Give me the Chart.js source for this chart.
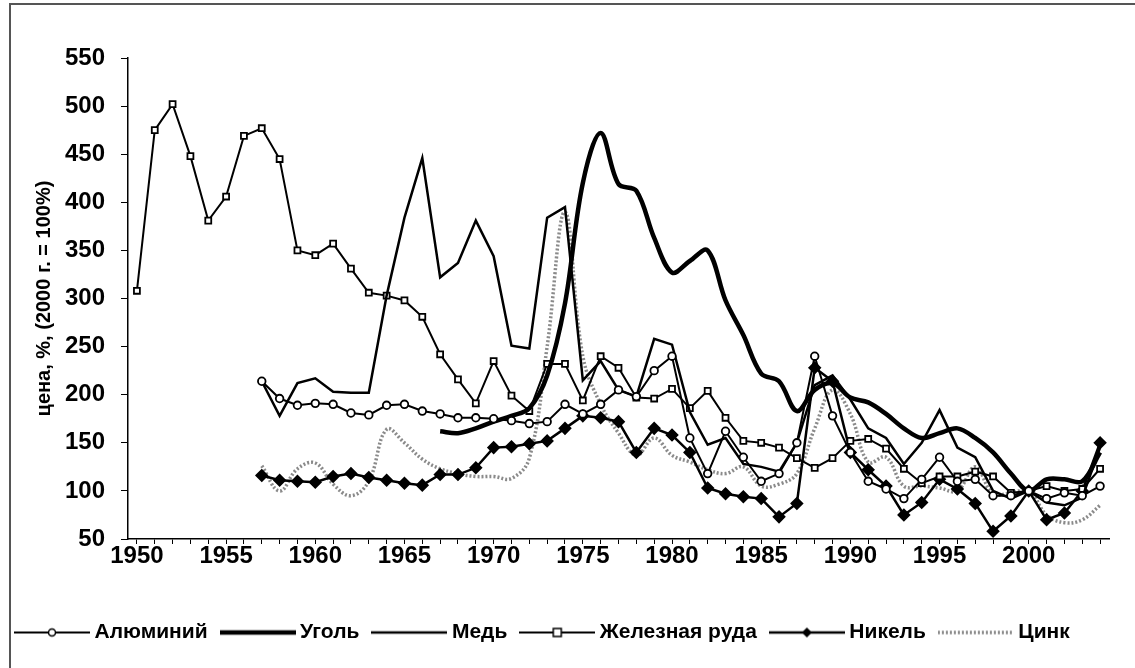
<!DOCTYPE html>
<html lang="ru">
<head>
<meta charset="utf-8">
<title>Цены на сырьё, 1950–2004</title>
<script src="https://cdn.jsdelivr.net/npm/chart.js@4.4.1/dist/chart.umd.min.js"></script>
<style>
  html, body { margin: 0; padding: 0; background: #fff; }
  #wrap { position: relative; width: 1135px; height: 668px; overflow: hidden; }
  #frame { position: absolute; left: 9px; top: 3px; right: -10px; bottom: -10px;
           border-left: 2px solid #555; border-top: 2px solid #555; pointer-events: none; }
</style>
</head>
<body>
<div id="wrap">
  <canvas id="myChart" width="1135" height="668"></canvas>
  <div id="frame"></div>
</div>
<script>
// годы (ось X)
var years = [1950, 1951, 1952, 1953, 1954, 1955, 1956, 1957, 1958, 1959,
             1960, 1961, 1962, 1963, 1964, 1965, 1966, 1967, 1968, 1969,
             1970, 1971, 1972, 1973, 1974, 1975, 1976, 1977, 1978, 1979,
             1980, 1981, 1982, 1983, 1984, 1985, 1986, 1987, 1988, 1989,
             1990, 1991, 1992, 1993, 1994, 1995, 1996, 1997, 1998, 1999,
             2000, 2001, 2002, 2003, 2004];
var xLabelYears = [1950, 1955, 1960, 1965, 1970, 1975, 1980, 1985, 1990, 1995, 2000];
var yTicks = [50, 100, 150, 200, 250, 300, 350, 400, 450, 500, 550];

// цены, % (2000 г. = 100%)
var ironOre = [308, 475, 502, 448, 381, 406, 469, 477, 445, 350,   // с 1950
               345, 357, 331, 306, 303, 298, 281, 242, 216, 191,
               235, 199, 183, 232, 232, 194, 240, 228, 197, 196,
               206, 186, 204, 176, 152, 150, 145, 134, 124, 134,
               152, 154, 144, 123, 108, 115, 115, 120, 115, 98,
               100, 105, 100, 102, 123];
var aluminium = [214, 196, 189, 191, 190, 181, 179, 189, 190, 183,  // с 1957
                 180, 176, 176, 175, 173, 170, 172, 190, 180, 190,
                 205, 198, 225, 240, 155, 118, 162, 135, 110, 118,
                 150, 240, 178, 140, 110, 102, 92, 112, 135, 110,
                 112, 95, 95, 100, 92, 98, 95, 105];
var copper = [214, 178, 212, 217, 203, 202, 202, 303, 384, 446,     // с 1957
              322, 337, 381, 344, 251, 248, 384, 395, 215, 235,
              205, 198, 258, 252, 182, 148, 155, 128, 125, 120,
              150, 210, 220, 195, 165, 155, 128, 150, 184, 145,
              135, 100, 92, 100, 88, 85, 93, 145];
var nickel = [116, 111, 110, 109, 115, 118, 114, 111, 108, 106,     // с 1957
              117, 117, 124, 145, 146, 149, 152, 165, 178, 176,
              172, 140, 165, 158, 140, 103, 97, 94, 92, 73,
              87, 228, 214, 140, 122, 105, 75, 88, 112, 102,
              87, 58, 74, 100, 70, 77, 100, 150];
var zinc = [126, 100, 123, 129, 107, 95, 110, 164, 150, 133,        // с 1957
            123, 118, 115, 115, 113, 134, 250, 390, 240, 190,
            160, 137, 155, 137, 130, 122, 118, 125, 105, 107,
            118, 165, 205, 180, 130, 135, 105, 105, 103, 100,
            125, 97, 98, 100, 75, 67, 70, 85];
var coal = [162, 160, 165, 172, 178, 186, 220, 295, 420, 472,       // с 1967
            419, 412, 363, 327, 339, 350, 298, 262, 222, 214,
            183, 205, 212, 197, 192, 180, 165, 155, 160, 165,
            155, 140, 118, 100, 112, 112, 110, 140];

// ряд начинается не с 1950 -> дополняем пустыми значениями
function fromYear(start, values) {
  var out = [];
  for (var i = 0; i < years.length; i++) {
    var k = years[i] - start;
    out.push(k >= 0 && k < values.length ? values[k] : null);
  }
  return out;
}

var FONT = "'Liberation Sans', Arial, sans-serif";

// образцы линий для легенды
function sample(lineW, color, dash, marker) {
  var c = document.createElement("canvas");
  c.width = 76; c.height = 14;
  var g = c.getContext("2d");
  g.strokeStyle = color; g.lineWidth = lineW;
  if (dash) g.setLineDash(dash);
  g.beginPath(); g.moveTo(0, 7); g.lineTo(76, 7); g.stroke();
  g.setLineDash([]);
  g.lineWidth = 1.5;
  if (marker === "circle") {
    g.fillStyle = "#fff"; g.beginPath(); g.arc(38, 7, 3.5, 0, Math.PI * 2); g.fill(); g.stroke();
  } else if (marker === "rect") {
    g.fillStyle = "#fff"; g.fillRect(34, 3, 8, 8); g.strokeRect(34, 3, 8, 8);
  } else if (marker === "diamond") {
    g.fillStyle = "#000"; g.beginPath();
    g.moveTo(38, 2); g.lineTo(43, 7); g.lineTo(38, 12); g.lineTo(33, 7); g.closePath(); g.fill();
  }
  return c;
}

var samples = [
  sample(2, "#000", null, "circle"),
  sample(4.5, "#000"),
  sample(2.5, "#000"),
  sample(2, "#000", null, "rect"),
  sample(2.5, "#000", null, "diamond"),
  sample(3.5, "#8a8a8a", [2, 2])
];

var ctx = document.getElementById("myChart").getContext("2d");

var chart = new Chart(ctx, {
  type: "line",
  data: {
    labels: years,
    datasets: [
      {
        label: "Алюминий",
        data: fromYear(1957, aluminium),
        borderColor: "#000", borderWidth: 2,
        pointStyle: "circle", pointRadius: 3.8,
        pointBackgroundColor: "#fff", pointBorderColor: "#000", pointBorderWidth: 1.8
      },
      {
        label: "Уголь",
        data: fromYear(1967, coal),
        borderColor: "#000", borderWidth: 4.5, pointRadius: 0, tension: 0.35
      },
      {
        label: "Медь",
        data: fromYear(1957, copper),
        borderColor: "#000", borderWidth: 2.5, pointRadius: 0
      },
      {
        label: "Железная руда",
        data: ironOre,
        borderColor: "#000", borderWidth: 2,
        pointStyle: "rect", pointRadius: 4.2,
        pointBackgroundColor: "#fff", pointBorderColor: "#000", pointBorderWidth: 1.8
      },
      {
        label: "Никель",
        data: fromYear(1957, nickel),
        borderColor: "#000", borderWidth: 2.5,
        pointStyle: "rectRot", pointRadius: 5,
        pointBackgroundColor: "#000", pointBorderColor: "#000"
      },
      {
        label: "Цинк",
        data: fromYear(1957, zinc),
        borderColor: "#8a8a8a", borderWidth: 3.5, borderDash: [2, 2],
        pointRadius: 0, tension: 0.4
      }
    ]
  },
  options: {
    responsive: false,
    animation: false,
    layout: { padding: { left: 2, top: 58, right: 26, bottom: 15 } },
    plugins: {
      tooltip: { enabled: false },
      legend: {
        position: "bottom",
        align: "start",
        labels: {
          usePointStyle: true,
          pointStyleWidth: 64,
          padding: 18,
          color: "#000",
          font: { family: FONT, size: 21, weight: "bold" },
          generateLabels: function (chart) {
            return chart.data.datasets.map(function (ds, i) {
              return {
                text: ds.label, pointStyle: samples[i], datasetIndex: i,
                fillStyle: "transparent", strokeStyle: "transparent", lineWidth: 0,
                fontColor: "#000", hidden: false
              };
            });
          }
        }
      }
    },
    scales: {
      x: {
        offset: true,
        afterFit: function (s) { s.height = 65; },
        grid: { drawOnChartArea: false, drawTicks: true, tickLength: 5, color: "#000" },
        border: { color: "#000", width: 1.5 },
        ticks: {
          autoSkip: false, maxRotation: 0, padding: -2, color: "#000",
          font: { family: FONT, size: 24, weight: "bold" },
          callback: function (v, i) {
            return xLabelYears.indexOf(years[i]) >= 0 ? String(years[i]) : "";
          }
        }
      },
      y: {
        min: yTicks[0],
        max: yTicks[yTicks.length - 1],
        afterFit: function (s) { s.width = 126; },
        grid: { drawOnChartArea: false, drawTicks: true, tickLength: 7, color: "#000" },
        border: { color: "#000", width: 1.5 },
        ticks: {
          stepSize: yTicks[1] - yTicks[0], padding: 16, color: "#000",
          font: { family: FONT, size: 24, weight: "bold" }
        },
        title: {
          display: true,
          text: "цена, %, (2000 г. = 100%)",
          color: "#000",
          padding: { top: 30, bottom: 0 },
          font: { family: FONT, size: 20, weight: "bold" }
        }
      }
    }
  }
});
</script>
</body>
</html>
